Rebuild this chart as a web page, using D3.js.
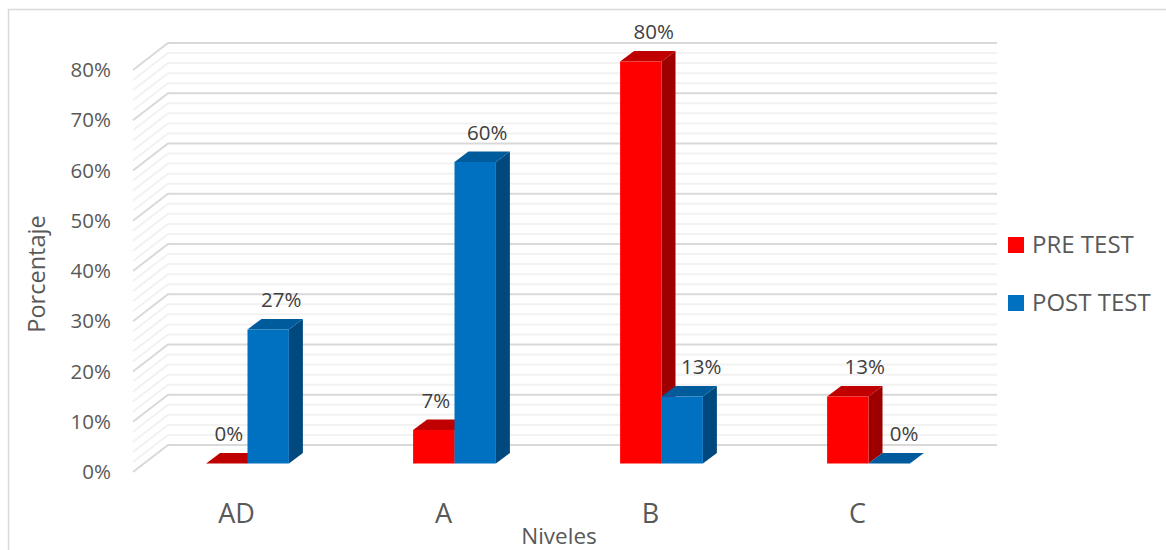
<!DOCTYPE html>
<html>
<head>
<meta charset="utf-8">
<script src="https://cdn.jsdelivr.net/npm/d3@7"></script>
<style>
  html, body { margin: 0; padding: 0; background: #fff; }
  svg { display: block; }
  text { font-family: "Open Sans", sans-serif; fill: #595959; }
</style>
</head>
<body>
<div id="chart"></div>
<script>
const categories = ['AD', 'A', 'B', 'C'];
const seriesNames = ['PRE TEST', 'POST TEST'];
const preTest = [0, 0.0667, 0.80, 0.1333];
const postTest = [0.2667, 0.60, 0.1333, 0];
const yTicks = [0, 0.1, 0.2, 0.3, 0.4, 0.5, 0.6, 0.7, 0.8];
const minorTicks = d3.range(0, 41).map(i => i * 0.02);

const WIDTH = 1166, HEIGHT = 550;
const WALL = { dx: 35, dy: -27 };      // floor depth, front edge to back wall
const BAR_OFFSET = { dx: 11, dy: -8.5 };  // bars sit inside the floor
const BAR_DEPTH = { dx: 14, dy: -10.5 };

// label offsets were moved by hand in the original chart
const labelNudge = [[2, 13], [2, 12], [13, 19], [17, 15]];

const palette = [
    { front: '#ff0000', top: '#c00000', side: '#9e0000' },
    { front: '#0070c0', top: '#005b9c', side: '#00497e' }
];

const svg = d3.select('#chart').append('svg')
    .attr('width', WIDTH)
    .attr('height', HEIGHT);

const x = d3.scaleBand().domain(categories).range([133, 961]);
const y = d3.scaleLinear().domain([0, 0.8]).range([472, 70]);
const barWidth = x.bandwidth() / 5;

// chart frame: only top and left edges are visible in the crop
svg.append('path')
    .attr('d', `M8.5,${HEIGHT}V9.5H${WIDTH}`)
    .attr('fill', 'none')
    .attr('stroke', '#d9d9d9')
    .attr('stroke-width', 1.5);

// ─── Wall and floor gridlines ─────────────────────────────────

const gridPath = v => {
    const front = x.range()[0], right = 997;
    return `M${front},${y(v)}L${front + WALL.dx},${y(v) + WALL.dy}H${right}`;
};

const isMajor = v => Math.abs(v * 10 - Math.round(v * 10)) < 1e-6;

svg.append('g').selectAll('path')
    .data(minorTicks.slice().sort((a, b) => isMajor(a) - isMajor(b)))
    .join('path')
    .attr('d', gridPath)
    .attr('fill', 'none')
    .attr('stroke', d => isMajor(d) ? '#d9d9d9' : '#f2f2f2')
    .attr('stroke-width', 2);

// ─── Bars ─────────────────────────────────────────────────────

const bars = [];
categories.forEach((c, i) => {
    [preTest[i], postTest[i]].forEach((value, s) => {
        bars.push({ cat: c, idx: i, s, value });
    });
});

const barX = d => x(d.cat) + x.bandwidth() / 2 - barWidth + d.s * barWidth + BAR_OFFSET.dx;
const barBase = () => y(0) + BAR_OFFSET.dy;
const barTop = d => y(d.value) + BAR_OFFSET.dy;

const barG = svg.append('g').selectAll('g')
    .data(bars)
    .join('g');

barG.append('path')     // side face
    .attr('d', d => {
        const r = barX(d) + barWidth;
        return `M${r},${barBase()}V${barTop(d)}l${BAR_DEPTH.dx},${BAR_DEPTH.dy}V${barBase() + BAR_DEPTH.dy}Z`;
    })
    .attr('fill', d => palette[d.s].side);

barG.append('path')     // top face
    .attr('d', d => {
        const l = barX(d);
        return `M${l},${barTop(d)}h${barWidth}l${BAR_DEPTH.dx},${BAR_DEPTH.dy}h${-barWidth}Z`;
    })
    .attr('fill', d => palette[d.s].top);

barG.append('rect')     // front face
    .attr('x', barX)
    .attr('y', barTop)
    .attr('width', barWidth)
    .attr('height', d => barBase() - barTop(d))
    .attr('fill', d => palette[d.s].front);

// ─── Value labels ─────────────────────────────────────────────

svg.append('g').selectAll('text')
    .data(bars)
    .join('text')
    .attr('x', d => barX(d) + barWidth / 2 + labelNudge[d.idx][d.s])
    .attr('y', d => barTop(d) - 29.5)
    .attr('dy', '0.35em')
    .attr('text-anchor', 'middle')
    .style('font-size', '20.5px')
    .style('fill', '#404040')
    .text(d => d3.format('.0%')(d.value));

// ─── Axes ─────────────────────────────────────────────────────

const yAxis = d3.axisLeft(y)
    .tickValues(yTicks)
    .tickFormat(d3.format('.0%'))
    .tickSize(0)
    .tickPadding(0);

const yG = svg.append('g')
    .attr('transform', 'translate(111,0)')
    .call(yAxis);
yG.select('.domain').remove();
yG.selectAll('text')
    .style('font-size', '20.5px')
    .style('font-family', '"Open Sans", sans-serif')
    .style('fill', '#595959');

const xAxis = d3.axisBottom(x).tickSize(0).tickPadding(0);
const xG = svg.append('g')
    .attr('transform', 'translate(0,504)')
    .call(xAxis);
xG.select('.domain').remove();
xG.selectAll('text')
    .style('font-size', '27px')
    .style('font-family', '"Open Sans", sans-serif')
    .style('fill', '#595959');

svg.append('text')
    .attr('transform', 'translate(37,274) rotate(-90)')
    .attr('text-anchor', 'middle')
    .attr('dy', '0.35em')
    .style('font-size', '23.5px')
    .text('Porcentaje');

svg.append('text')
    .attr('x', 559)
    .attr('y', 536)
    .attr('text-anchor', 'middle')
    .attr('dy', '0.35em')
    .style('font-size', '22.5px')
    .text('Niveles');

// ─── Legend ───────────────────────────────────────────────────

const legend = svg.append('g').selectAll('g')
    .data(seriesNames)
    .join('g')
    .attr('transform', (d, i) => `translate(1008,${245 + i * 58})`);

legend.append('rect')
    .attr('y', -8)
    .attr('width', 16)
    .attr('height', 16)
    .attr('fill', (d, i) => palette[i].front);

legend.append('text')
    .attr('x', 24)
    .attr('dy', '0.35em')
    .style('font-size', '24px')
    .text(d => d);
</script>
</body>
</html>
